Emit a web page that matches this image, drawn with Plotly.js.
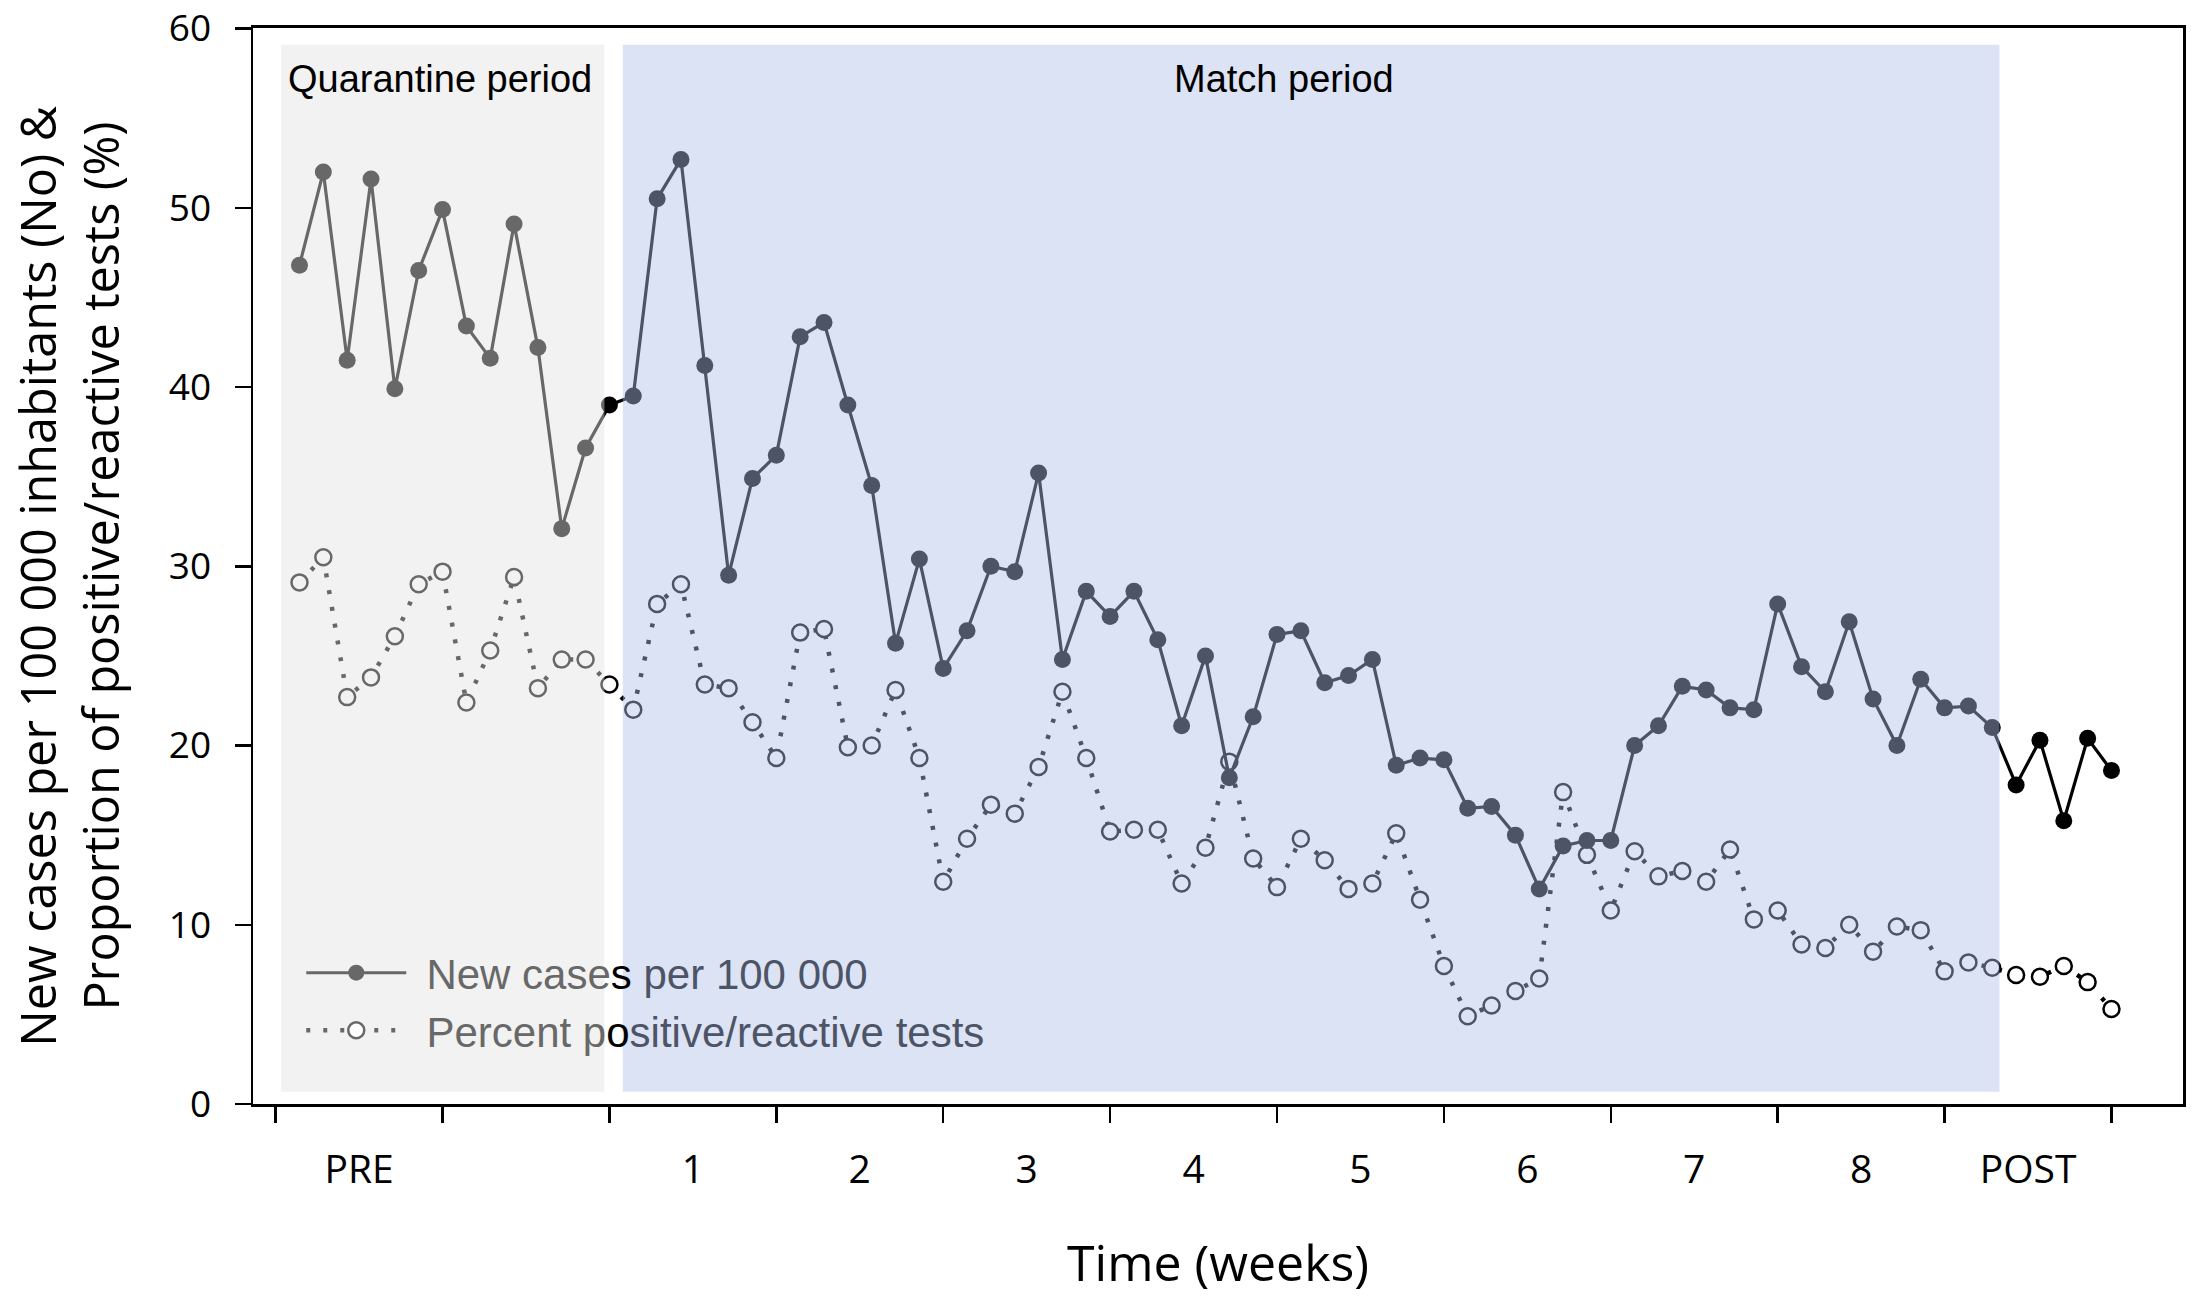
<!DOCTYPE html>
<html><head><meta charset="utf-8">
<script src="https://cdn.plot.ly/plotly-3.0.1.min.js"></script>
<style>html,body{margin:0;padding:0;background:#fff}#chart{width:2195px;height:1296px}</style>
</head><body><div id="chart"></div>
<script>
const days = [1,2,3,4,5,6,7,8,9,10,11,12,13,14,15,16,17,18,19,20,21,22,23,24,25,26,27,28,29,30,31,32,33,34,35,36,37,38,39,40,41,42,43,44,45,46,47,48,49,50,51,52,53,54,55,56,57,58,59,60,61,62,63,64,65,66,67,68,69,70,71,72,73,74,75,76,77];
const newCases = [46.8,52.0,41.5,51.6,39.9,46.5,49.9,43.4,41.6,49.1,42.2,32.1,36.6,39.0,
  39.5,50.5,52.7,41.2,29.5,34.9,36.2,42.8,43.6,39.0,34.5,25.7,30.4,24.3,26.4,30.0,29.7,35.2,24.8,28.6,27.2,28.6,25.9,21.1,25.0,18.2,21.6,26.2,26.4,23.5,23.9,24.8,18.9,19.3,19.2,16.5,16.6,15.0,12.0,14.4,14.7,14.7,20.0,21.1,23.3,23.1,22.1,22.0,27.9,24.4,23.0,26.9,22.6,20.0,23.7,22.1,22.2,21.0,
  17.8,20.3,15.8,20.4,18.6];
const percentPositive = [29.1,30.5,22.7,23.8,26.1,29.0,29.7,22.4,25.3,29.4,23.2,24.8,24.8,23.4,
  22.0,27.9,29.0,23.4,23.2,21.3,19.3,26.3,26.5,19.9,20.0,23.1,19.3,12.4,14.8,16.7,16.2,18.8,23.0,19.3,15.2,15.3,15.3,12.3,14.3,19.1,13.7,12.1,14.8,13.6,12.0,12.3,15.1,11.4,7.7,4.9,5.5,6.3,7.0,17.4,13.9,10.8,14.1,12.7,13.0,12.4,14.2,10.3,10.8,8.9,8.7,10.0,8.5,9.9,9.7,7.4,7.9,7.6,
  7.2,7.1,7.7,6.8,5.3];
const weekBounds = [0,7,14,21,28,35,42,49,56,63,70,77];
const weekCenters = [3.5,10.5,17.5,24.5,31.5,38.5,45.5,52.5,59.5,66.5,73.5];
const weekLabels = ['PRE','','1','2','3','4','5','6','7','8','POST'];
const yTicks = [0,10,20,30,40,50,60];
const seriesNames = ['New cases per 100 000','Percent positive/reactive tests'];
const periodNames = ['Quarantine period','Match period'];
const yTitleLines = ['New cases per 100 000 inhabitants (No) &amp;','Proportion of positive/reactive tests (%)'];

const GRAY = '#686868', SLATE = '#4d5466';
function splitName(name, a, b){
  return '\u00a0\u200a' + name.slice(0,a) + '<span style="color:#000">' + name.slice(a,b) + '</span><span style="color:' + SLATE + '">' + name.slice(b) + '</span>';
}

const traces = [
  {x: days, y: percentPositive, type:'scatter', mode:'lines+markers', showlegend:false, hoverinfo:'skip',
   line:{color:'#000', width:4.5, dash:'4px,13px'},
   marker:{symbol:'circle', size:16, color:'#fff', line:{color:'#000', width:2.5}}},
  {x: days, y: newCases, type:'scatter', mode:'lines+markers', showlegend:false, hoverinfo:'skip',
   line:{color:'#000', width:3.2}, marker:{symbol:'circle', size:17, color:'#000'}},
  {x:[null], y:[null], type:'scatter', mode:'lines+markers', name: splitName(seriesNames[0],8,9),
   line:{color:GRAY, width:3}, marker:{symbol:'circle', size:17, color:GRAY}},
  {x:[null], y:[null], type:'scatter', mode:'lines+markers', name: splitName(seriesNames[1],9,10),
   line:{color:GRAY, width:4.5, dash:'4px,13px'}, marker:{symbol:'circle', size:16, color:'#fff', line:{color:GRAY, width:2.5}}},
  {x:[null], y:[null], type:'scatter', mode:'markers', xaxis:'x2', showlegend:false, hoverinfo:'skip'}
];

const xr = [-0.95, 80.0];
const layout = {
  width:2195, height:1296,
  margin:{l:253, r:12, t:28, b:192, pad:0},
  paper_bgcolor:'#fff', plot_bgcolor:'#fff',
  font:{family:'Open Sans, sans-serif', color:'#000'},
  showlegend:true,
  xaxis:{range:xr, tickmode:'array', tickvals:weekBounds, showticklabels:false,
    ticks:'outside', ticklen:16, tickwidth:2.5, tickcolor:'#000',
    showline:true, linecolor:'#000', linewidth:3, mirror:true, showgrid:false, zeroline:false},
  xaxis2:{range:xr, overlaying:'x', anchor:'y', side:'bottom', tickmode:'array', tickvals:weekCenters, ticktext:weekLabels,
    ticks:'outside', ticklen:16, tickcolor:'rgba(0,0,0,0)', ticklabelstandoff:15, ticklabeloverflow:'allow',
    tickfont:{family:'Open Sans, sans-serif', size:39, color:'#000'},
    showline:false, showgrid:false, zeroline:false,
    title:{text:'Time (weeks)', font:{family:'Open Sans, sans-serif', size:50, color:'#000'}, standoff:56}},
  yaxis:{range:[0,60.03], tickmode:'array', tickvals:yTicks,
    ticks:'outside', ticklen:16, tickwidth:2.5, tickcolor:'#000', ticklabelstandoff:16, ticklabeloverflow:'allow',
    tickfont:{family:'Open Sans, sans-serif', size:37, color:'#000'},
    showline:true, linecolor:'#000', linewidth:2.5, mirror:true, showgrid:false, zeroline:false,
    title:{text: yTitleLines[0] + '\u00a0\u2009<br>' + yTitleLines[1],
      font:{family:'Open Sans, sans-serif', size:48.5, color:'#000'}, standoff:34}},
  legend:{x:0.025, y:0.1535, xanchor:'left', yanchor:'top', bgcolor:'rgba(0,0,0,0)',
    font:{family:'Liberation Sans, Arial, sans-serif', size:42, color:GRAY}, itemwidth:100, tracegroupgap:0},
  shapes:[
    {type:'rect', xref:'x', yref:'y', x0:0.23, x1:13.79, y0:0.68, y1:59.1, layer:'above',
     fillcolor:'rgba(227,227,227,0.46)', line:{width:0}},
    {type:'rect', xref:'x', yref:'y', x0:14.56, x1:72.3, y0:0.68, y1:59.1, layer:'above',
     fillcolor:'rgba(175,191,232,0.44)', line:{width:0}}
  ],
  annotations:[
    {text:periodNames[0], x:6.91, y:57.2, xref:'x', yref:'y', showarrow:false, xanchor:'center', yanchor:'middle',
     font:{family:'Liberation Sans, Arial, sans-serif', size:38, color:'#000'}},
    {text:periodNames[1], x:42.3, y:57.2, xref:'x', yref:'y', showarrow:false, xanchor:'center', yanchor:'middle',
     font:{family:'Liberation Sans, Arial, sans-serif', size:38, color:'#000'}}
  ]
};
Plotly.newPlot('chart', traces, layout, {displayModeBar:false, staticPlot:true});
</script></body></html>
